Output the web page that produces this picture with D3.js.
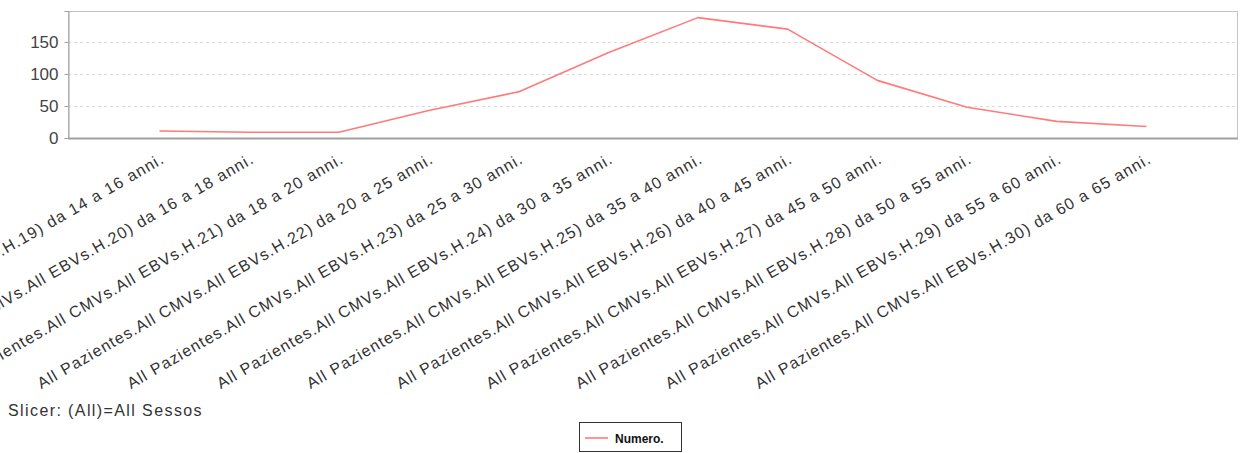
<!DOCTYPE html>
<html>
<head>
<meta charset="utf-8">
<script src="https://cdn.jsdelivr.net/npm/d3@7"></script>
<style>
  html, body { margin: 0; padding: 0; background: #fff; }
  svg { display: block; }
  text { font-family: "Liberation Sans", Arial, sans-serif; }
</style>
</head>
<body>
<svg id="chart" width="1240" height="453"></svg>
<script>
const categories = [
  "All Pazientes.All CMVs.All EBVs.H.19) da 14 a 16 anni.",
  "All Pazientes.All CMVs.All EBVs.H.20) da 16 a 18 anni.",
  "All Pazientes.All CMVs.All EBVs.H.21) da 18 a 20 anni.",
  "All Pazientes.All CMVs.All EBVs.H.22) da 20 a 25 anni.",
  "All Pazientes.All CMVs.All EBVs.H.23) da 25 a 30 anni.",
  "All Pazientes.All CMVs.All EBVs.H.24) da 30 a 35 anni.",
  "All Pazientes.All CMVs.All EBVs.H.25) da 35 a 40 anni.",
  "All Pazientes.All CMVs.All EBVs.H.26) da 40 a 45 anni.",
  "All Pazientes.All CMVs.All EBVs.H.27) da 45 a 50 anni.",
  "All Pazientes.All CMVs.All EBVs.H.28) da 50 a 55 anni.",
  "All Pazientes.All CMVs.All EBVs.H.29) da 55 a 60 anni.",
  "All Pazientes.All CMVs.All EBVs.H.30) da 60 a 65 anni."
];
const numero = [11, 9, 9, 43, 72, 133, 188, 170, 90, 48, 26, 18];
const yTicks = [0, 50, 100, 150];
const seriesName = "Numero.";
const slicerText = "Slicer: (All)=All Sessos";

const svg = d3.select("#chart");
const plot = { left: 68, right: 1238, top: 11, bottom: 138 };

const x = d3.scalePoint().domain(categories).range([plot.left, plot.right]).padding(1.02);
const y = d3.scaleLinear().domain([0, d3.max(numero) * 1.055]).range([plot.bottom, plot.top]);

// plot background + border
svg.append("rect")
  .attr("x", plot.left + 0.5).attr("y", plot.top + 0.5)
  .attr("width", plot.right - plot.left - 1).attr("height", plot.bottom - plot.top)
  .attr("fill", "#fff").attr("stroke", "#c4c4c4").attr("stroke-width", 1);

// gridlines
svg.append("g").selectAll("line")
  .data(yTicks.filter(d => d > 0))
  .join("line")
  .attr("x1", plot.left).attr("x2", plot.right - 1)
  .attr("y1", d => Math.round(y(d)) + 0.5).attr("y2", d => Math.round(y(d)) + 0.5)
  .attr("stroke", "#dcdcdc").attr("stroke-dasharray", "3,3");

// y axis
const yAxis = svg.append("g")
  .attr("transform", `translate(${plot.left + 0.5},0)`)
  .call(d3.axisLeft(y).tickValues(yTicks).tickSize(4).tickPadding(6));
yAxis.select(".domain").attr("stroke", "#a0a0a0");
yAxis.selectAll(".tick line").attr("stroke", "#a0a0a0");
yAxis.selectAll(".tick text")
  .attr("font-size", 17).attr("fill", "#444")
  .attr("font-family", "'Liberation Sans', Arial, sans-serif");

// x axis line
svg.append("line")
  .attr("x1", plot.left).attr("x2", plot.right)
  .attr("y1", plot.bottom + 0.5).attr("y2", plot.bottom + 0.5)
  .attr("stroke", "#a0a0a0").attr("stroke-width", 2);

// category labels
svg.append("g").selectAll("text")
  .data(categories)
  .join("text")
  .attr("transform", d => `translate(${x(d) + 6},162) rotate(-30)`)
  .attr("text-anchor", "end")
  .attr("font-size", 16)
  .attr("letter-spacing", "1.15px")
  .attr("fill", "#333")
  .text(d => d);

// line
const line = d3.line().x((d, i) => x(categories[i])).y(d => y(d));
svg.append("path")
  .datum(numero)
  .attr("d", line)
  .attr("fill", "none")
  .attr("stroke", "#ff7a7a")
  .attr("stroke-width", 1.6)
  .attr("stroke-linejoin", "round");

// slicer text
svg.append("text")
  .attr("x", 8).attr("y", 416)
  .attr("font-size", 16)
  .attr("letter-spacing", "1.4px")
  .attr("fill", "#333")
  .text(slicerText);

// legend
const lg = svg.append("g");
lg.append("rect")
  .attr("x", 579.5).attr("y", 422.5).attr("width", 102).attr("height", 29)
  .attr("fill", "#fff").attr("stroke", "#333").attr("stroke-width", 1);
lg.append("line")
  .attr("x1", 585).attr("x2", 608).attr("y1", 438).attr("y2", 438)
  .attr("stroke", "#ff7a7a").attr("stroke-width", 1.6);
lg.append("text")
  .attr("x", 615).attr("y", 443)
  .attr("font-size", 12)
  .attr("font-weight", "bold")
  .attr("font-family", "'DejaVu Sans', sans-serif")
  .attr("fill", "#111")
  .text(seriesName);
</script>
</body>
</html>
